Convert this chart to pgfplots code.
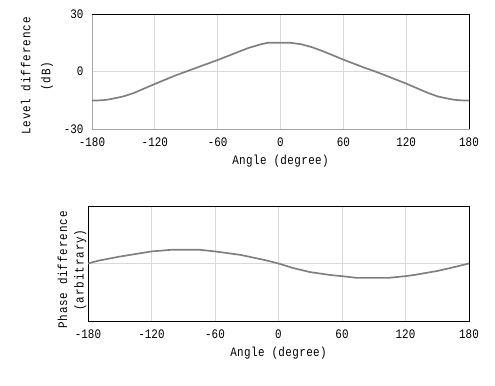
\documentclass[border=0pt]{standalone}
\usepackage{fontspec}
\setmainfont{Liberation Mono}[FakeStretch=0.84]
\newfontfamily\labfont{Liberation Mono}[FakeStretch=0.84, LetterSpace=3]
\newfontfamily\ylabfont{Liberation Mono}[FakeStretch=0.84, LetterSpace=7]
\usepackage{pgfplots}
\pgfplotsset{compat=1.18}
\begin{document}
\fontsize{13bp}{16bp}\selectfont
\begin{tikzpicture}
\path[use as bounding box] (0bp,0bp) rectangle (495bp,386bp);
\pgfplotsset{
  myax/.style={
    scale only axis, height=115bp,
    xmin=-180, xmax=180,
    xtick={-180,-120,...,180},
    grid=major, major grid style={draw=black!15, line width=0.8bp},
    major tick length=0pt,
    axis line style={draw=black!35, line width=0.8bp},
    /pgf/number format/assume math mode=true,
    tick label style={font=\fontsize{13bp}{16bp}\selectfont},
    xticklabel style={yshift=-4bp},
    yticklabel style={xshift=-4bp},
    xlabel={Angle (degree)},
    every axis x label/.style={at={(axis description cs:0.5,0)}, anchor=north, yshift=-22bp, font=\labfont\fontsize{13bp}{16bp}\selectfont},
    clip=false,
  }
}
\begin{axis}[myax, at={(92bp,257bp)}, anchor=south west, width=377bp,
  ymin=-30, ymax=30, ytick={-30,0,30},
  ylabel={Level difference\\(dB)},
  every axis y label/.style={at={(axis description cs:-0.146,0.46)}, rotate=90, anchor=center, align=center, font=\ylabfont\fontsize{13bp}{20bp}\selectfont},
]
\addplot[draw=black!50, line width=1.7bp] coordinates {
(-180,-15.2) (-170,-15.0) (-164,-14.6) (-150,-13.0) (-140,-11.2) (-120,-6.5) (-100,-2.0) (-90,0.0) (-80,2.0) (-60,6.0) (-40,10.3) (-30,12.4) (-20,14.0) (-12,15.0) (0,15.0) (9,15.0) (20,14.2) (30,12.7) (40,10.7) (60,6.2) (80,2.0) (90,0.1) (100,-2.0) (120,-6.3) (140,-11.0) (150,-13.0) (164,-14.6) (170,-15.0) (180,-15.2)
};
\draw[black, line width=0.8bp] (rel axis cs:0,1) -- (rel axis cs:1,1) -- (rel axis cs:1,0);
\end{axis}
\begin{axis}[myax, at={(88bp,65bp)}, anchor=south west, width=381bp,
  ymin=-1, ymax=1, ytick={0}, yticklabels={},
  axis line style={draw=black, line width=0.8bp},
  ylabel={Phase difference\\(arbitrary)},
  every axis y label/.style={at={(axis description cs:-0.042,0.443)}, rotate=90, anchor=center, align=center, font=\ylabfont\fontsize{13bp}{16.5bp}\selectfont},
]
\addplot[draw=black!50, line width=1.7bp] coordinates {
(-180,0.0) (-170,0.05) (-150,0.12) (-120,0.21) (-100,0.24) (-75,0.24) (-60,0.21) (-36,0.15) (-13,0.06) (0,0.0) (14,-0.08) (30,-0.15) (49,-0.2) (60,-0.22) (74,-0.25) (104,-0.25) (120,-0.22) (128,-0.2) (150,-0.13) (162,-0.08) (180,0.0)
};
\end{axis}
\end{tikzpicture}
\end{document}
